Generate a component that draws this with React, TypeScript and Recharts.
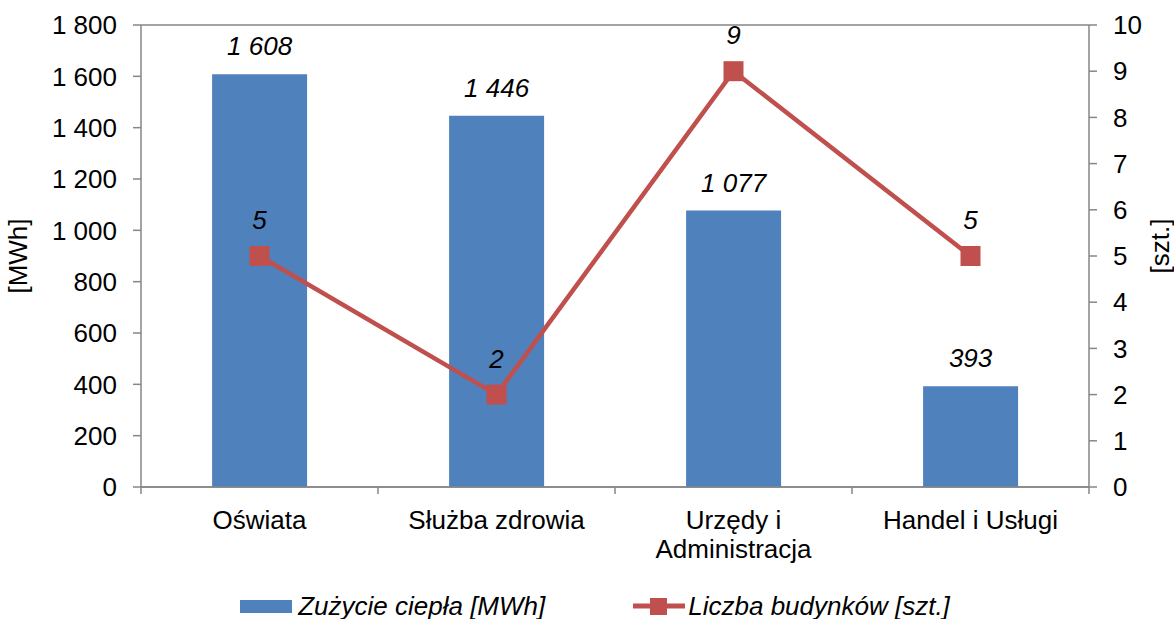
import React from 'react';
import {
  ComposedChart,
  Bar,
  Line,
  XAxis,
  YAxis,
  CartesianGrid,
  Legend,
  LabelList,
} from 'recharts';

const categories = ['Oświata', 'Służba zdrowia', 'Urzędy i Administracja', 'Handel i Usługi'];
const heatUse = [1608, 1446, 1077, 393];
const buildings = [5, 2, 9, 5];
const leftTicks = [0, 200, 400, 600, 800, 1000, 1200, 1400, 1600, 1800];
const rightTicks = [0, 1, 2, 3, 4, 5, 6, 7, 8, 9, 10];

const BAR_COLOR = '#4F81BD';
const LINE_COLOR = '#C0504D';
const GRID = '#868686';
const FONT = '"Liberation Sans", Arial, sans-serif';
const FS = 26;

const data = categories.map((name, i) => ({
  name,
  heat: heatUse[i],
  count: buildings[i],
}));

const fmt = (v: number) => String(v).replace(/\B(?=(\d{3})+(?!\d))/g, ' ');

let ctx: CanvasRenderingContext2D | null = null;
const textWidth = (s: string) => {
  if (!ctx) ctx = document.createElement('canvas').getContext('2d');
  if (!ctx) return s.length * FS * 0.55;
  ctx.font = `${FS}px ${FONT}`;
  return ctx.measureText(s).width;
};

// greedy word wrap, like Excel does for long category names
const wrap = (s: string, max: number) => {
  const lines: string[] = [];
  let cur = '';
  s.split(' ').forEach((w) => {
    const next = cur ? cur + ' ' + w : w;
    if (cur && textWidth(next) > max) {
      lines.push(cur);
      cur = w;
    } else cur = next;
  });
  if (cur) lines.push(cur);
  return lines;
};

const CategoryTick = (props: any) => {
  const { x, y, payload, index, visibleTicksCount } = props;
  const half = payload.offset || 0;
  const lines = wrap(String(payload.value), 225);
  return (
    <g>
      {half > 0 && <line x1={x - half} x2={x - half} y1={y} y2={y + 7} stroke={GRID} strokeWidth={1.5} />}
      {half > 0 && index === visibleTicksCount - 1 && (
        <line x1={x + half} x2={x + half} y1={y} y2={y + 7} stroke={GRID} strokeWidth={1.5} />
      )}
      <text x={x} y={y + 42} textAnchor="middle" fontSize={FS} fontFamily={FONT} fill="#000">
        {lines.map((l, i) => (
          <tspan key={i} x={x} dy={i === 0 ? 0 : 29}>
            {l}
          </tspan>
        ))}
      </text>
    </g>
  );
};

const SquareDot = (props: any) => {
  const { cx, cy } = props;
  if (cx == null || cy == null) return null;
  return <rect x={cx - 10} y={cy - 10} width={20} height={20} fill={LINE_COLOR} />;
};

const AxisTitle = ({ viewBox, value, dx, dy }: any) => {
  const cx = viewBox.x + dx;
  const cy = viewBox.y + viewBox.height / 2 + dy;
  return (
    <text
      x={cx}
      y={cy}
      transform={`rotate(-90 ${cx} ${cy})`}
      textAnchor="middle"
      dominantBaseline="central"
      fontSize={FS}
      fontFamily={FONT}
      fill="#000"
    >
      {value}
    </text>
  );
};

const LegendContent = () => (
  <div
    style={{
      display: 'flex',
      justifyContent: 'center',
      alignItems: 'center',
      gap: 88,
      fontFamily: FONT,
      fontSize: FS,
      fontStyle: 'italic',
      color: '#000',
      paddingTop: 18,
      paddingLeft: 16,
      lineHeight: '30px',
    }}
  >
    <div style={{ display: 'flex', alignItems: 'center' }}>
      <span style={{ display: 'inline-block', width: 52, height: 13, background: BAR_COLOR, marginRight: 6 }} />
      <span>Zużycie ciepła [MWh]</span>
    </div>
    <div style={{ display: 'flex', alignItems: 'center' }}>
      <svg width={52} height={20} style={{ marginRight: 3 }}>
        <line x1={0} y1={10} x2={52} y2={10} stroke={LINE_COLOR} strokeWidth={5} />
        <rect x={17} y={2} width={17} height={17} fill={LINE_COLOR} />
      </svg>
      <span>Liczba budynków [szt.]</span>
    </div>
  </div>
);

export default function App() {
  return (
    <div style={{ position: 'absolute', left: 0, top: 0, background: '#fff' }}>
      <ComposedChart
        width={1174}
        height={619}
        data={data}
        margin={{ top: 25, right: 0, bottom: 0, left: 0 }}
        barCategoryGap="30%"
      >
        <CartesianGrid vertical={false} stroke={GRID} strokeWidth={1.5} />
        <XAxis
          dataKey="name"
          height={86}
          axisLine={{ stroke: GRID, strokeWidth: 1.5 }}
          tickLine={false}
          tickSize={0}
          tickMargin={0}
          interval={0}
          tick={<CategoryTick />}
        />
        <YAxis
          yAxisId="left"
          width={141}
          domain={[0, 1800]}
          ticks={leftTicks}
          tickFormatter={fmt}
          axisLine={{ stroke: GRID, strokeWidth: 1.5 }}
          tickLine={{ stroke: GRID, strokeWidth: 1.5 }}
          tickSize={8}
          tickMargin={16}
          tick={{ fontSize: FS, fill: '#000', fontFamily: FONT }}
          label={<AxisTitle value="[MWh]" dx={18} dy={0} />}
        />
        <YAxis
          yAxisId="right"
          orientation="right"
          width={85}
          domain={[0, 10]}
          ticks={rightTicks}
          axisLine={{ stroke: GRID, strokeWidth: 1.5 }}
          tickLine={{ stroke: GRID, strokeWidth: 1.5 }}
          tickSize={8}
          tickMargin={16}
          tick={{ fontSize: FS, fill: '#000', fontFamily: FONT }}
          label={<AxisTitle value="[szt.]" dx={71} dy={-10} />}
        />
        <Legend verticalAlign="bottom" height={46} content={<LegendContent />} />
        <Bar yAxisId="left" dataKey="heat" name="Zużycie ciepła [MWh]" fill={BAR_COLOR} isAnimationActive={false}>
          <LabelList
            dataKey="heat"
            position="top"
            offset={19}
            formatter={(v: any) => fmt(v)}
            style={{ fontSize: FS, fontStyle: 'italic', fill: '#000', fontFamily: FONT }}
          />
        </Bar>
        <Line
          yAxisId="right"
          dataKey="count"
          name="Liczba budynków [szt.]"
          stroke={LINE_COLOR}
          strokeWidth={4.5}
          dot={<SquareDot />}
          activeDot={false}
          isAnimationActive={false}
        >
          <LabelList
            dataKey="count"
            position="top"
            offset={27}
            style={{ fontSize: FS, fontStyle: 'italic', fill: '#000', fontFamily: FONT }}
          />
        </Line>
      </ComposedChart>
    </div>
  );
}
